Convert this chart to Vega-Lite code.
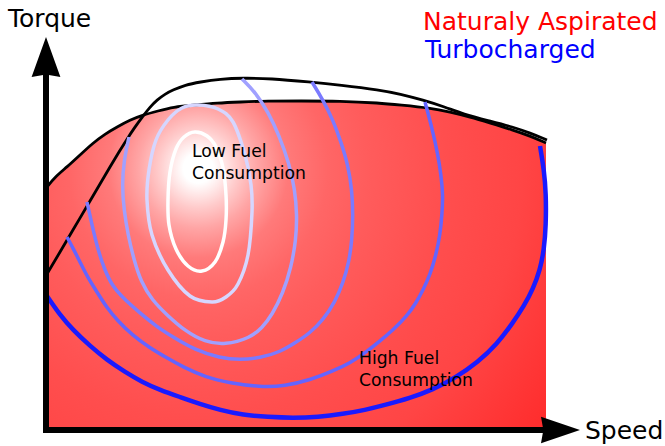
{
  "$schema": "https://vega.github.io/schema/vega-lite/v6.json",
  "width": 665,
  "height": 446,
  "padding": 0,
  "autosize": {"type": "none"},
  "background": "white",
  "config": {"view": {"stroke": null}, "text": {"font": "DejaVu Sans"}},
  "datasets": {
    "na": [
      {"speed": 1, "torque": 243}, {"speed": 9, "torque": 253}, {"speed": 21, "torque": 263},
      {"speed": 34, "torque": 275}, {"speed": 47, "torque": 287}, {"speed": 59, "torque": 296},
      {"speed": 71, "torque": 303}, {"speed": 84, "torque": 310}, {"speed": 97, "torque": 315},
      {"speed": 112, "torque": 319}, {"speed": 127, "torque": 323}, {"speed": 149, "torque": 325},
      {"speed": 171, "torque": 327}, {"speed": 194, "torque": 328}, {"speed": 221, "torque": 329},
      {"speed": 254, "torque": 329}, {"speed": 294, "torque": 329}, {"speed": 334, "torque": 327},
      {"speed": 354, "torque": 325}, {"speed": 384, "torque": 322}, {"speed": 404, "torque": 318},
      {"speed": 424, "torque": 313}, {"speed": 444, "torque": 307}, {"speed": 467, "torque": 300},
      {"speed": 484, "torque": 294}, {"speed": 500, "torque": 287}
    ],
    "turbo": [
      {"speed": 1, "torque": 156}, {"speed": 14, "torque": 178}, {"speed": 27, "torque": 200},
      {"speed": 44, "torque": 229}, {"speed": 54, "torque": 246}, {"speed": 64, "torque": 263},
      {"speed": 73, "torque": 278}, {"speed": 81, "torque": 291}, {"speed": 89, "torque": 303},
      {"speed": 97, "torque": 314}, {"speed": 104, "torque": 323}, {"speed": 111, "torque": 330},
      {"speed": 119, "torque": 336}, {"speed": 127, "torque": 340}, {"speed": 139, "torque": 345},
      {"speed": 154, "torque": 348}, {"speed": 174, "torque": 351}, {"speed": 197, "torque": 352},
      {"speed": 224, "torque": 351.5}, {"speed": 264, "torque": 348}, {"speed": 294, "torque": 345},
      {"speed": 334, "torque": 340}, {"speed": 354, "torque": 336}, {"speed": 377, "torque": 330},
      {"speed": 399, "torque": 323}, {"speed": 417, "torque": 316}, {"speed": 444, "torque": 309},
      {"speed": 467, "torque": 303}, {"speed": 484, "torque": 297}, {"speed": 501, "torque": 290}
    ],
    "ellipses": [
      {"contour": "c1", "i": 0, "speed": 149, "torque": 298}, {"contour": "c1", "i": 1, "speed": 161, "torque": 294},
      {"contour": "c1", "i": 2, "speed": 170, "torque": 283}, {"contour": "c1", "i": 3, "speed": 177, "torque": 262},
      {"contour": "c1", "i": 4, "speed": 180, "torque": 235}, {"contour": "c1", "i": 5, "speed": 180, "torque": 210},
      {"contour": "c1", "i": 6, "speed": 177, "torque": 188}, {"contour": "c1", "i": 7, "speed": 169, "torque": 168},
      {"contour": "c1", "i": 8, "speed": 156, "torque": 159}, {"contour": "c1", "i": 9, "speed": 142, "torque": 164},
      {"contour": "c1", "i": 10, "speed": 130, "torque": 181}, {"contour": "c1", "i": 11, "speed": 123, "torque": 205},
      {"contour": "c1", "i": 12, "speed": 122, "torque": 230}, {"contour": "c1", "i": 13, "speed": 124, "torque": 258},
      {"contour": "c1", "i": 14, "speed": 130, "torque": 281}, {"contour": "c1", "i": 15, "speed": 138, "torque": 293},
      {"contour": "c2", "i": 0, "speed": 152, "torque": 325}, {"contour": "c2", "i": 1, "speed": 172, "torque": 321},
      {"contour": "c2", "i": 2, "speed": 187, "torque": 308}, {"contour": "c2", "i": 3, "speed": 199, "torque": 275},
      {"contour": "c2", "i": 4, "speed": 205, "torque": 245}, {"contour": "c2", "i": 5, "speed": 206, "torque": 218},
      {"contour": "c2", "i": 6, "speed": 202, "torque": 175}, {"contour": "c2", "i": 7, "speed": 192, "torque": 146},
      {"contour": "c2", "i": 8, "speed": 180, "torque": 133}, {"contour": "c2", "i": 9, "speed": 166, "torque": 128},
      {"contour": "c2", "i": 10, "speed": 144, "torque": 134}, {"contour": "c2", "i": 11, "speed": 122, "torque": 160},
      {"contour": "c2", "i": 12, "speed": 106, "torque": 195}, {"contour": "c2", "i": 13, "speed": 101, "torque": 230},
      {"contour": "c2", "i": 14, "speed": 103, "torque": 260}, {"contour": "c2", "i": 15, "speed": 110, "torque": 290},
      {"contour": "c2", "i": 16, "speed": 122, "torque": 310}, {"contour": "c2", "i": 17, "speed": 136, "torque": 322}
    ],
    "arcs": [
      {"contour": "c3", "i": 0, "speed": 83, "torque": 293}, {"contour": "c3", "i": 1, "speed": 78, "torque": 270},
      {"contour": "c3", "i": 2, "speed": 76, "torque": 245}, {"contour": "c3", "i": 3, "speed": 78, "torque": 220},
      {"contour": "c3", "i": 4, "speed": 82, "torque": 195}, {"contour": "c3", "i": 5, "speed": 88, "torque": 170},
      {"contour": "c3", "i": 6, "speed": 95, "torque": 148}, {"contour": "c3", "i": 7, "speed": 106, "torque": 130},
      {"contour": "c3", "i": 8, "speed": 121, "torque": 115}, {"contour": "c3", "i": 9, "speed": 139, "torque": 99},
      {"contour": "c3", "i": 10, "speed": 159, "torque": 88}, {"contour": "c3", "i": 11, "speed": 179, "torque": 85},
      {"contour": "c3", "i": 12, "speed": 204, "torque": 92}, {"contour": "c3", "i": 13, "speed": 216, "torque": 102},
      {"contour": "c3", "i": 14, "speed": 226, "torque": 115}, {"contour": "c3", "i": 15, "speed": 237, "torque": 137},
      {"contour": "c3", "i": 16, "speed": 245, "torque": 162}, {"contour": "c3", "i": 17, "speed": 250, "torque": 190},
      {"contour": "c3", "i": 18, "speed": 251, "torque": 215}, {"contour": "c3", "i": 19, "speed": 249, "torque": 240},
      {"contour": "c3", "i": 20, "speed": 243, "torque": 267}, {"contour": "c3", "i": 21, "speed": 233, "torque": 295},
      {"contour": "c3", "i": 22, "speed": 222, "torque": 318}, {"contour": "c3", "i": 23, "speed": 210, "torque": 337},
      {"contour": "c3", "i": 24, "speed": 196, "torque": 351},
      {"contour": "c4", "i": 0, "speed": 41, "torque": 228}, {"contour": "c4", "i": 1, "speed": 46, "torque": 205},
      {"contour": "c4", "i": 2, "speed": 52, "torque": 180}, {"contour": "c4", "i": 3, "speed": 58, "torque": 162},
      {"contour": "c4", "i": 4, "speed": 66, "torque": 144}, {"contour": "c4", "i": 5, "speed": 79, "torque": 130},
      {"contour": "c4", "i": 6, "speed": 94, "torque": 117}, {"contour": "c4", "i": 7, "speed": 111, "torque": 103},
      {"contour": "c4", "i": 8, "speed": 127, "torque": 93}, {"contour": "c4", "i": 9, "speed": 149, "torque": 80},
      {"contour": "c4", "i": 10, "speed": 174, "torque": 72}, {"contour": "c4", "i": 11, "speed": 194, "torque": 70},
      {"contour": "c4", "i": 12, "speed": 214, "torque": 72}, {"contour": "c4", "i": 13, "speed": 234, "torque": 78},
      {"contour": "c4", "i": 14, "speed": 249, "torque": 87}, {"contour": "c4", "i": 15, "speed": 264, "torque": 97},
      {"contour": "c4", "i": 16, "speed": 277, "torque": 110}, {"contour": "c4", "i": 17, "speed": 289, "torque": 128},
      {"contour": "c4", "i": 18, "speed": 297, "torque": 147}, {"contour": "c4", "i": 19, "speed": 303, "torque": 168},
      {"contour": "c4", "i": 20, "speed": 306, "torque": 190}, {"contour": "c4", "i": 21, "speed": 307, "torque": 215},
      {"contour": "c4", "i": 22, "speed": 306, "torque": 240}, {"contour": "c4", "i": 23, "speed": 302, "torque": 265},
      {"contour": "c4", "i": 24, "speed": 295, "torque": 288}, {"contour": "c4", "i": 25, "speed": 287, "torque": 310},
      {"contour": "c4", "i": 26, "speed": 277, "torque": 330}, {"contour": "c4", "i": 27, "speed": 266, "torque": 348},
      {"contour": "c5", "i": 0, "speed": 21, "torque": 193}, {"contour": "c5", "i": 1, "speed": 28, "torque": 180},
      {"contour": "c5", "i": 2, "speed": 34, "torque": 168}, {"contour": "c5", "i": 3, "speed": 42, "torque": 152},
      {"contour": "c5", "i": 4, "speed": 51, "torque": 138}, {"contour": "c5", "i": 5, "speed": 61, "torque": 122},
      {"contour": "c5", "i": 6, "speed": 71, "torque": 110}, {"contour": "c5", "i": 7, "speed": 86, "torque": 95},
      {"contour": "c5", "i": 8, "speed": 104, "torque": 82}, {"contour": "c5", "i": 9, "speed": 121, "torque": 72},
      {"contour": "c5", "i": 10, "speed": 137, "torque": 63}, {"contour": "c5", "i": 11, "speed": 159, "torque": 53},
      {"contour": "c5", "i": 12, "speed": 184, "torque": 47}, {"contour": "c5", "i": 13, "speed": 214, "torque": 43},
      {"contour": "c5", "i": 14, "speed": 239, "torque": 44}, {"contour": "c5", "i": 15, "speed": 264, "torque": 50},
      {"contour": "c5", "i": 16, "speed": 287, "torque": 59}, {"contour": "c5", "i": 17, "speed": 304, "torque": 67},
      {"contour": "c5", "i": 18, "speed": 319, "torque": 77}, {"contour": "c5", "i": 19, "speed": 334, "torque": 89},
      {"contour": "c5", "i": 20, "speed": 347, "torque": 100}, {"contour": "c5", "i": 21, "speed": 361, "torque": 114},
      {"contour": "c5", "i": 22, "speed": 370, "torque": 127}, {"contour": "c5", "i": 23, "speed": 377, "torque": 140},
      {"contour": "c5", "i": 24, "speed": 384, "torque": 155}, {"contour": "c5", "i": 25, "speed": 390, "torque": 175},
      {"contour": "c5", "i": 26, "speed": 394, "torque": 195}, {"contour": "c5", "i": 27, "speed": 396, "torque": 215},
      {"contour": "c5", "i": 28, "speed": 397, "torque": 235}, {"contour": "c5", "i": 29, "speed": 395, "torque": 255},
      {"contour": "c5", "i": 30, "speed": 392, "torque": 275}, {"contour": "c5", "i": 31, "speed": 386, "torque": 302},
      {"contour": "c5", "i": 32, "speed": 379, "torque": 328},
      {"contour": "c6", "i": 0, "speed": 1, "torque": 134}, {"contour": "c6", "i": 1, "speed": 14, "torque": 115},
      {"contour": "c6", "i": 2, "speed": 27, "torque": 100}, {"contour": "c6", "i": 3, "speed": 44, "torque": 84},
      {"contour": "c6", "i": 4, "speed": 61, "torque": 70}, {"contour": "c6", "i": 5, "speed": 79, "torque": 58},
      {"contour": "c6", "i": 6, "speed": 96, "torque": 48}, {"contour": "c6", "i": 7, "speed": 114, "torque": 40},
      {"contour": "c6", "i": 8, "speed": 134, "torque": 33}, {"contour": "c6", "i": 9, "speed": 154, "torque": 26},
      {"contour": "c6", "i": 10, "speed": 174, "torque": 20}, {"contour": "c6", "i": 11, "speed": 197, "torque": 15},
      {"contour": "c6", "i": 12, "speed": 222, "torque": 13}, {"contour": "c6", "i": 13, "speed": 247, "torque": 12},
      {"contour": "c6", "i": 14, "speed": 272, "torque": 13}, {"contour": "c6", "i": 15, "speed": 297, "torque": 16},
      {"contour": "c6", "i": 16, "speed": 319, "torque": 20}, {"contour": "c6", "i": 17, "speed": 339, "torque": 25},
      {"contour": "c6", "i": 18, "speed": 364, "torque": 32}, {"contour": "c6", "i": 19, "speed": 386, "torque": 40},
      {"contour": "c6", "i": 20, "speed": 409, "torque": 52}, {"contour": "c6", "i": 21, "speed": 432, "torque": 68},
      {"contour": "c6", "i": 22, "speed": 451, "torque": 86}, {"contour": "c6", "i": 23, "speed": 466, "torque": 106},
      {"contour": "c6", "i": 24, "speed": 478, "torque": 124}, {"contour": "c6", "i": 25, "speed": 487, "torque": 141},
      {"contour": "c6", "i": 26, "speed": 494, "torque": 160}, {"contour": "c6", "i": 27, "speed": 498, "torque": 180},
      {"contour": "c6", "i": 28, "speed": 500, "torque": 205}, {"contour": "c6", "i": 29, "speed": 500, "torque": 237},
      {"contour": "c6", "i": 30, "speed": 498, "torque": 260}, {"contour": "c6", "i": 31, "speed": 494, "torque": 284}
    ]
  },
  "encoding": {
    "x": {"field": "speed", "type": "quantitative", "scale": {"domain": [-46, 619], "nice": false, "zero": false}, "axis": null},
    "y": {"field": "torque", "type": "quantitative", "scale": {"domain": [-16, 430], "nice": false, "zero": false}, "axis": null}
  },
  "layer": [
    {
      "data": {"name": "na"},
      "mark": {
        "type": "area",
        "interpolate": "basis",
        "fill": {
          "gradient": "radial",
          "x1": 0.303, "y1": 0.305, "r1": 0,
          "x2": 0.303, "y2": 0.305, "r2": 1,
          "stops": [
            {"offset": 0, "color": "#ffffff"},
            {"offset": 0.03, "color": "#ffffff"},
            {"offset": 0.08, "color": "#ffcaca"},
            {"offset": 0.12, "color": "#ffa5a5"},
            {"offset": 0.18, "color": "#ff7a7a"},
            {"offset": 0.26, "color": "#ff6666"},
            {"offset": 0.34, "color": "#ff5c5c"},
            {"offset": 0.5, "color": "#ff4e4e"},
            {"offset": 0.65, "color": "#ff4545"},
            {"offset": 0.85, "color": "#ff2e2e"},
            {"offset": 1, "color": "#ff2a2a"}
          ]
        }
      },
      "encoding": {"y2": {"datum": 0}}
    },
    {
      "data": {"name": "na"},
      "mark": {"type": "line", "interpolate": "basis", "color": "black", "strokeWidth": 2.8}
    },
    {
      "data": {"name": "turbo"},
      "mark": {"type": "line", "interpolate": "basis", "color": "black", "strokeWidth": 2.8}
    },
    {
      "data": {"name": "ellipses"},
      "mark": {"type": "line", "interpolate": "cardinal-closed", "strokeWidth": 3.5},
      "encoding": {
        "color": {"field": "contour", "type": "nominal", "legend": null,
          "scale": {"domain": ["c1", "c2", "c3", "c4", "c5", "c6"], "range": ["#ffffff", "#d6d6ff", "#a0a0ff", "#7a7aff", "#6464ff", "#1a1aff"]}},
        "order": {"field": "i", "type": "quantitative"}
      }
    },
    {
      "data": {"name": "arcs"},
      "transform": [{"filter": "datum.contour != 'c6'"}],
      "mark": {"type": "line", "interpolate": "basis", "strokeWidth": 3.5},
      "encoding": {
        "color": {"field": "contour", "type": "nominal", "legend": null,
          "scale": {"domain": ["c1", "c2", "c3", "c4", "c5", "c6"], "range": ["#ffffff", "#d6d6ff", "#a0a0ff", "#7a7aff", "#6464ff", "#1a1aff"]}},
        "order": {"field": "i", "type": "quantitative"}
      }
    },
    {
      "data": {"name": "arcs"},
      "transform": [{"filter": "datum.contour == 'c6'"}],
      "mark": {"type": "line", "interpolate": "basis", "strokeWidth": 4.5},
      "encoding": {
        "color": {"field": "contour", "type": "nominal", "legend": null,
          "scale": {"domain": ["c1", "c2", "c3", "c4", "c5", "c6"], "range": ["#ffffff", "#d6d6ff", "#a0a0ff", "#7a7aff", "#6464ff", "#1a1aff"]}},
        "order": {"field": "i", "type": "quantitative"}
      }
    },
    {
      "data": {"values": [
        {"speed": 146, "torque": 273, "label": "Low Fuel"},
        {"speed": 146, "torque": 251, "label": "Consumption"},
        {"speed": 313, "torque": 66, "label": "High Fuel"},
        {"speed": 313, "torque": 44, "label": "Consumption"}
      ]},
      "mark": {"type": "text", "align": "left", "baseline": "alphabetic", "fontSize": 17.2, "color": "#000000"},
      "encoding": {"text": {"field": "label"}}
    },
    {
      "data": {"values": [
        {"speed": -38, "torque": 403, "label": "Torque"},
        {"speed": 539, "torque": -9, "label": "Speed"}
      ]},
      "mark": {"type": "text", "align": "left", "baseline": "alphabetic", "fontSize": 25, "color": "#000000"},
      "encoding": {"text": {"field": "label"}}
    },
    {
      "data": {"values": [{"speed": 377, "torque": 400, "label": "Naturaly Aspirated"}]},
      "mark": {"type": "text", "align": "left", "baseline": "alphabetic", "fontSize": 25, "color": "#ff0000"},
      "encoding": {"text": {"field": "label"}}
    },
    {
      "data": {"values": [{"speed": 379, "torque": 372, "label": "Turbocharged"}]},
      "mark": {"type": "text", "align": "left", "baseline": "alphabetic", "fontSize": 25, "color": "#0000ff"},
      "encoding": {"text": {"field": "label"}}
    },
    {
      "data": {"values": [
        {"speed": 0, "torque": -3, "speed2": 0, "torque2": 356},
        {"speed": -3, "torque": 0, "speed2": 498, "torque2": 0}
      ]},
      "mark": {"type": "rule", "color": "black", "strokeWidth": 6, "strokeCap": "butt"},
      "encoding": {"x2": {"field": "speed2"}, "y2": {"field": "torque2"}}
    },
    {
      "data": {"values": [{"speed": 0, "torque": 373}]},
      "mark": {"type": "point", "filled": true, "color": "black", "opacity": 1, "size": 1600, "shape": "M0,-1L0.72,1L0,0.88L-0.72,1Z"}
    },
    {
      "data": {"values": [{"speed": 514.5, "torque": 0}]},
      "mark": {"type": "point", "filled": true, "color": "black", "opacity": 1, "size": 1521, "shape": "M1,0L-1,0.68L-0.88,0L-1,-0.68Z"}
    }
  ]
}
